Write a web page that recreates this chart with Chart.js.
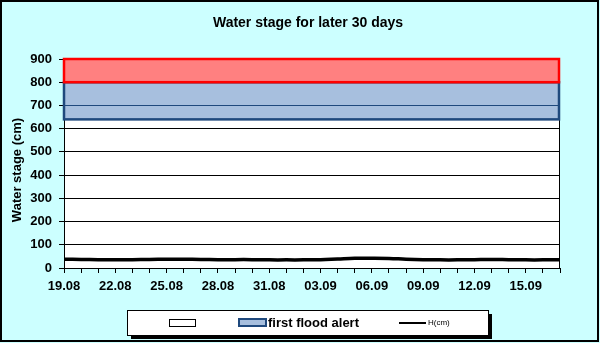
<!DOCTYPE html>
<html>
<head>
<meta charset="utf-8">
<title>Water stage</title>
<script src="https://cdn.jsdelivr.net/npm/chart.js@4.4.1/dist/chart.umd.min.js"></script>
<style>
  body { margin: 0; background: #fff; }
  canvas { display: block; }
</style>
</head>
<body>
<canvas id="stageChart" width="600" height="343"></canvas>
<script>
// Days on the x axis (19.08 - 17.09)
const dates = [
  "19.08", "20.08", "21.08", "22.08", "23.08", "24.08", "25.08", "26.08", "27.08", "28.08",
  "29.08", "30.08", "31.08", "01.09", "02.09", "03.09", "04.09", "05.09", "06.09", "07.09",
  "08.09", "09.09", "10.09", "11.09", "12.09", "13.09", "14.09", "15.09", "16.09", "17.09"
];

// Measured stage H (cm)
const stageH = [
  38, 37, 36, 36, 36, 37, 38, 38, 37, 36,
  36, 36, 35, 35, 35, 36, 39, 42, 42, 41,
  38, 36, 35, 35, 36, 37, 36, 35, 35, 35
];

// Alert bands (cm): [from, to]
const firstAlert = [640, 800];
const secondAlert = [800, 900];

// Y axis range and x label step (every 3rd day)
const yRange = [0, 900];
const yStep = 100;
const labelStep = 3;

const chartTitle = "Water stage for later 30 days";
const yTitle = "Water stage (cm)";
const legendNames = ["", "first flood alert", "H(cm)"];

const FONT = "Arial, 'Liberation Sans', sans-serif";
const NAVY = "#1F497D";

// bands, frame, titles and the boxed legend
const framePlugin = {
  id: "frame",
  beforeDraw(chart) {
    const { ctx, chartArea: a, scales: { y } } = chart;
    ctx.save();
    ctx.fillStyle = "#CCFFFF";
    ctx.fillRect(0, 0, chart.width, chart.height);
    ctx.lineWidth = 2;
    ctx.strokeStyle = "#000";
    ctx.strokeRect(1, 1, chart.width - 3, chart.height - 3);

    ctx.fillStyle = "#fff";
    ctx.fillRect(a.left, a.top, a.width, a.height);

    const y0 = y.getPixelForValue(firstAlert[0]), y1 = y.getPixelForValue(firstAlert[1]);
    ctx.fillStyle = "#A7BFDE";
    ctx.fillRect(a.left, y1, a.width, y0 - y1);
    const r0 = y.getPixelForValue(secondAlert[0]), r1 = y.getPixelForValue(secondAlert[1]);
    ctx.fillStyle = "#FF8080";
    ctx.fillRect(a.left, r1, a.width, r0 - r1);

    ctx.fillStyle = "#000";
    ctx.font = "bold 14px " + FONT;
    ctx.textAlign = "center";
    ctx.textBaseline = "middle";
    ctx.fillText(chartTitle, 308, 23);

    // y axis title, a bit below the middle of the plot
    ctx.font = "bold 13px " + FONT;
    ctx.translate(17, 170);
    ctx.rotate(-Math.PI / 2);
    ctx.fillText(yTitle, 0, 0);
    ctx.restore();
  },
  beforeDatasetsDraw(chart) {
    const { ctx, chartArea: a, scales: { y } } = chart;
    ctx.save();
    ctx.lineWidth = 1;
    ctx.strokeStyle = "#000";
    ctx.strokeRect(a.left + 0.5, a.top + 0.5, a.width - 1, a.height);

    ctx.lineWidth = 2.5;
    const y0 = y.getPixelForValue(firstAlert[0]), y1 = y.getPixelForValue(firstAlert[1]);
    ctx.strokeStyle = NAVY;
    ctx.strokeRect(a.left, y1, a.width - 1, y0 - y1);
    const r0 = y.getPixelForValue(secondAlert[0]), r1 = y.getPixelForValue(secondAlert[1]);
    ctx.strokeStyle = "#FF0000";
    ctx.strokeRect(a.left, r1, a.width - 1, r0 - r1);
    ctx.restore();
  },
  afterDraw(chart) {
    const ctx = chart.ctx;
    const lx = 127, ly = 310, lw = 361, lh = 25;
    ctx.save();
    ctx.fillStyle = "#000";
    ctx.fillRect(lx + 4, ly + 4, lw, lh);
    ctx.fillStyle = "#fff";
    ctx.fillRect(lx, ly, lw, lh);
    ctx.lineWidth = 1;
    ctx.strokeStyle = "#000";
    ctx.strokeRect(lx + 0.5, ly + 0.5, lw, lh);

    // empty box
    ctx.fillStyle = "#fff";
    ctx.fillRect(169, 319, 27, 8);
    ctx.strokeRect(169.5, 319.5, 26, 7);

    // first flood alert
    ctx.fillStyle = "#A7BFDE";
    ctx.fillRect(238, 318, 29, 9);
    ctx.lineWidth = 2;
    ctx.strokeStyle = NAVY;
    ctx.strokeRect(239, 319, 27, 7);
    ctx.fillStyle = "#000";
    ctx.font = "bold 13px " + FONT;
    ctx.textAlign = "left";
    ctx.textBaseline = "middle";
    ctx.fillText(legendNames[1], 268, 323);

    // H(cm)
    ctx.strokeStyle = "#000";
    ctx.lineWidth = 2;
    ctx.beginPath();
    ctx.moveTo(399, 323);
    ctx.lineTo(426, 323);
    ctx.stroke();
    ctx.font = "8px " + FONT;
    ctx.fillText(legendNames[2], 428, 323);
    ctx.restore();
  }
};

new Chart(document.getElementById("stageChart"), {
  type: "line",
  data: {
    labels: dates,
    datasets: [{
      label: legendNames[2],
      data: stageH,
      borderColor: "#000",
      borderWidth: 3.5,
      pointRadius: 0,
      tension: 0.4,
      fill: false
    }]
  },
  options: {
    responsive: false,
    animation: false,
    layout: { padding: { left: 0, right: 40, top: 59, bottom: 45 } },
    plugins: {
      legend: { display: false },
      title: { display: false },
      tooltip: { enabled: false }
    },
    scales: {
      x: {
        grid: { drawOnChartArea: false, tickLength: 5, tickColor: "#000", tickWidth: 1 },
        border: { color: "#000", width: 1 },
        ticks: {
          autoSkip: false,
          maxRotation: 0,
          minRotation: 0,
          padding: 6,
          color: "#000",
          font: { family: FONT, size: 13, weight: "bold" },
          callback: (v, i) => i % labelStep === 0 ? dates[i] : ""
        },
        afterFit: s => { s.height = 30; }
      },
      y: {
        min: yRange[0],
        max: yRange[1],
        ticks: {
          stepSize: yStep,
          padding: 7,
          color: "#000",
          font: { family: FONT, size: 13, weight: "bold" }
        },
        grid: {
          color: c => (c.tick && c.tick.value > firstAlert[0] && c.tick.value < firstAlert[1]) ? NAVY : "#000",
          tickColor: "#000",
          tickLength: 5
        },
        border: { color: "#000", width: 1 },
        afterFit: s => { s.width = 64; }
      }
    }
  },
  plugins: [framePlugin]
});
</script>
</body>
</html>
